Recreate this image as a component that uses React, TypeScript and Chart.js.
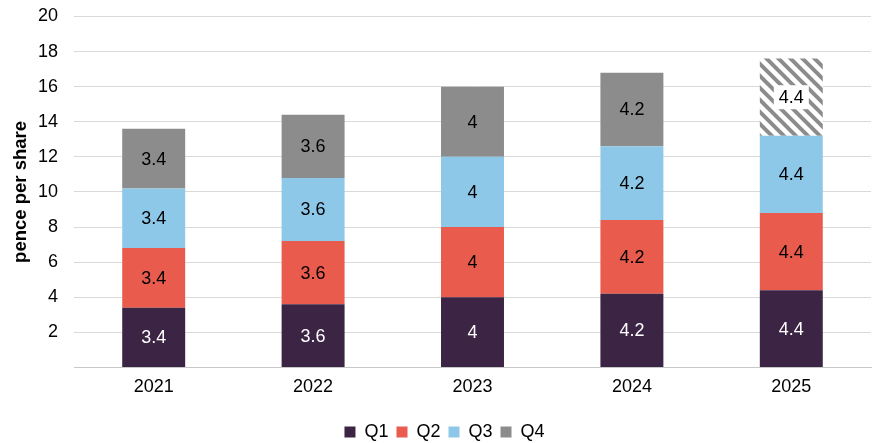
import React, { useEffect, useRef } from "react";
import { Chart, registerables } from "chart.js";

Chart.register(...registerables);

const years = ["2021", "2022", "2023", "2024", "2025"];
const q1 = [3.4, 3.6, 4, 4.2, 4.4];
const q2 = [3.4, 3.6, 4, 4.2, 4.4];
const q3 = [3.4, 3.6, 4, 4.2, 4.4];
const q4 = [3.4, 3.6, 4, 4.2, 4.4];
const quarterLabels = ["Q1", "Q2", "Q3", "Q4"];
const yTicks = [2, 4, 6, 8, 10, 12, 14, 16, 18, 20];

const COLORS = ["#3c2444", "#e85b4d", "#8ec8e8", "#8c8c8c"];
const FONT = "'Liberation Sans', Arial, sans-serif";

function makeHatch(): CanvasPattern | string {
  const s = 12;
  const c = document.createElement("canvas");
  c.width = s;
  c.height = s;
  const g = c.getContext("2d");
  if (!g) return "#8c8c8c";
  g.fillStyle = "#ffffff";
  g.fillRect(0, 0, s, s);
  g.strokeStyle = "#8c8c8c";
  g.lineWidth = 4;
  g.beginPath();
  g.moveTo(-s / 2, -s / 2);
  g.lineTo(s * 1.5, s * 1.5);
  g.moveTo(-s / 2, s / 2);
  g.lineTo(s / 2, s * 1.5);
  g.moveTo(s / 2, -s / 2);
  g.lineTo(s * 1.5, s / 2);
  g.stroke();
  return g.createPattern(c, "repeat") || "#8c8c8c";
}

// Writes each segment's value in the middle of its bar piece
const segmentLabels = {
  id: "segmentLabels",
  afterDatasetsDraw(chart: any) {
    const ctx = chart.ctx;
    ctx.save();
    ctx.font = `18px ${FONT}`;
    ctx.textAlign = "center";
    ctx.textBaseline = "middle";
    chart.data.datasets.forEach((ds: any, di: number) => {
      const meta = chart.getDatasetMeta(di);
      if (meta.hidden) return;
      meta.data.forEach((el: any, i: number) => {
        const { x, y, base } = el.getProps(["x", "y", "base"], true);
        const cy = (y + base) / 2;
        const text = String(ds.data[i]);
        if (ds.forecast && ds.forecast[i]) {
          const w = ctx.measureText(text).width + 10;
          ctx.fillStyle = "#ffffff";
          ctx.fillRect(x - w / 2, cy - 12, w, 24);
        }
        ctx.fillStyle = di === 0 ? "#ffffff" : "#000000";
        ctx.fillText(text, x, cy + 1);
      });
    });
    ctx.restore();
  },
};

// Nudges the legend row slightly lower and to the right
const legendNudge = {
  id: "legendNudge",
  afterLayout(chart: any) {
    const lg = chart.legend;
    if (!lg) return;
    lg.top += 8;
    lg.bottom += 8;
    lg.left += 9;
    lg.right += 9;
  },
};

export default function App() {
  const ref = useRef<HTMLCanvasElement | null>(null);

  useEffect(() => {
    document.body.style.margin = "0";
    if (!ref.current) return;
    const hatch = makeHatch();
    const series = [q1, q2, q3, q4];
    const datasets = series.map((vals, k) => ({
      label: quarterLabels[k],
      data: vals,
      backgroundColor:
        k === 3 ? vals.map((_, i) => (i === vals.length - 1 ? hatch : COLORS[3])) : COLORS[k],
      forecast: k === 3 ? vals.map((_, i) => i === vals.length - 1) : undefined,
      borderWidth: 0,
      categoryPercentage: 1,
      barPercentage: 0.395,
    }));

    const chart = new Chart(ref.current, {
      type: "bar",
      data: { labels: years, datasets: datasets as any },
      options: {
        animation: false,
        responsive: false,
        maintainAspectRatio: false,
        layout: { padding: { top: 16.5, right: 3, bottom: 0, left: 0 } },
        plugins: {
          tooltip: { enabled: false },
          legend: {
            position: "bottom",
            labels: {
              boxWidth: 11,
              boxHeight: 11,
              padding: 8,
              color: "#000",
              font: { family: FONT, size: 18 },
            },
          },
        },
        scales: {
          x: {
            stacked: true,
            grid: { display: false, drawTicks: false },
            border: { display: true, color: "#c8c8c8", width: 1 },
            ticks: {
              color: "#000",
              font: { family: FONT, size: 18 },
              padding: 9,
            },
          },
          y: {
            stacked: true,
            min: 0,
            max: 20,
            afterBuildTicks: (axis: any) => {
              axis.ticks = [0, ...yTicks].map((v) => ({ value: v }));
            },
            afterFit: (axis: any) => {
              axis.width = 74;
              axis.paddingTop = 0;
              axis.paddingBottom = 0;
            },
            grid: { color: "#d9d9d9", drawTicks: false, lineWidth: 1 },
            border: { display: false },
            ticks: {
              color: "#000",
              font: { family: FONT, size: 18 },
              padding: 16,
              callback: (v: any) => (v === 0 ? "" : String(v)),
            },
            title: {
              display: true,
              text: "pence per share",
              color: "#000",
              font: { family: FONT, size: 18.5, weight: "bold" },
              padding: { top: 10, bottom: 0 },
            },
          },
        },
      },
      plugins: [segmentLabels, legendNudge],
    });
    return () => chart.destroy();
  }, []);

  return (
    <div style={{ width: 874, height: 443 }}>
      <canvas ref={ref} width={874} height={443} style={{ display: "block" }} />
    </div>
  );
}
